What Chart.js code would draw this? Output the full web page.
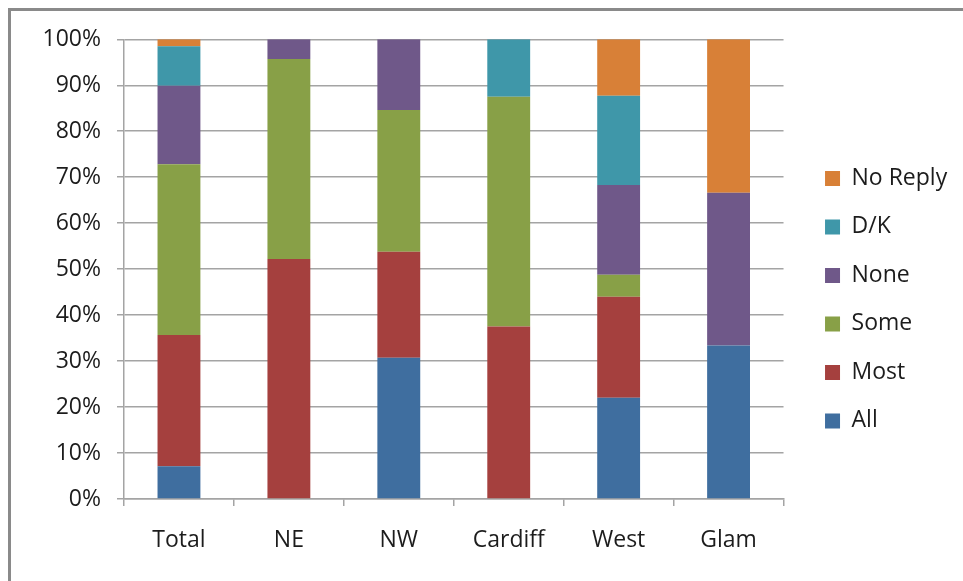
<!DOCTYPE html>
<html>
<head>
<meta charset="utf-8">
<script src="https://cdn.jsdelivr.net/npm/chart.js@4/dist/chart.umd.min.js"></script>
<style>
  html, body { margin: 0; padding: 0; background: #ffffff; overflow: hidden; }
  #frame {
    position: absolute; left: 8px; top: 8px; width: 1000px; height: 620px;
    border-top: 3px solid #8a8a8a; border-left: 3px solid #8a8a8a;
  }
  #wrap { position: absolute; left: 0; top: 0; width: 963px; height: 581px; }
</style>
</head>
<body>
<div id="frame"></div>
<div id="wrap"><canvas id="chart" width="963" height="581"></canvas></div>
<script>
// Share of replies per area (percent of respondents)
const categories = ['Total', 'NE', 'NW', 'Cardiff', 'West', 'Glam'];
const allVals     = [7.1, 0, 30.7, 0, 22.0, 33.4];
const mostVals    = [28.6, 52.2, 23.1, 37.5, 22.0, 0];
const someVals    = [37.1, 43.5, 30.8, 50.0, 4.8, 0];
const noneVals    = [17.1, 4.3, 15.4, 0, 19.5, 33.2];
const dkVals      = [8.6, 0, 0, 12.5, 19.4, 0];
const noReplyVals = [1.5, 0, 0, 0, 12.3, 33.4];
const yTicks = [0, 10, 20, 30, 40, 50, 60, 70, 80, 90, 100];

const FONT = "'Open Sans', Lato, 'Liberation Sans', sans-serif";
const FSIZE = 23;
const TEXT = '#1c1c1c';
const GRID = '#a4a4a4';

// Legend geometry: the legend starts at legendLeft, the plot ends at plotRight
const legendPad = 25.5, legendBox = 15;
const legendLeft = 800;
const plotRight = 784;
const padTop = 39.3, padBottom = 21, plotBottom = 499, plotLeft = 124;

const ds = (label, data, color) => ({
  label, data, backgroundColor: color, borderWidth: 0,
  barPercentage: 0.39, categoryPercentage: 1.0
});

const chart = new Chart(document.getElementById('chart'), {
  type: 'bar',
  data: {
    labels: categories,
    datasets: [
      ds('All', allVals, '#3f6e9f'),
      ds('Most', mostVals, '#a5403e'),
      ds('Some', someVals, '#88a047'),
      ds('None', noneVals, '#6f5889'),
      ds('D/K', dkVals, '#3f97a9'),
      ds('No Reply', noReplyVals, '#d88037')
    ]
  },
  options: {
    responsive: false,
    animation: false,
    events: [],
    layout: { padding: { top: padTop, bottom: padBottom, left: 0, right: 20 } },
    plugins: {
      tooltip: { enabled: false },
      legend: {
        position: 'right',
        reverse: true,
        labels: {
          boxWidth: legendBox, boxHeight: legendBox, padding: legendPad,
          color: TEXT, font: { family: FONT, size: FSIZE }
        }
      }
    },
    scales: {
      x: {
        stacked: true,
        grid: { offset: true, drawOnChartArea: false, drawTicks: true, tickLength: 7, color: GRID, lineWidth: 1.5 },
        border: { display: true, color: GRID, width: 1.5 },
        ticks: { color: TEXT, padding: 21, font: { family: FONT, size: FSIZE } },
        afterFit: s => { s.height = 581 - padBottom - plotBottom; }
      },
      y: {
        stacked: true,
        min: 0, max: 100,
        afterBuildTicks: s => { s.ticks = yTicks.map(v => ({ value: v })); },
        grid: { drawOnChartArea: true, drawTicks: true, tickLength: 7, color: GRID, lineWidth: 1.5 },
        border: { display: true, color: GRID, width: 1.5 },
        ticks: { color: TEXT, padding: 16, font: { family: FONT, size: FSIZE }, callback: v => v + '%' },
        afterFit: s => { s.width = plotLeft; }
      },
      gap: {
        type: 'linear', position: 'right', display: true,
        grid: { display: false }, border: { display: false }, ticks: { display: false },
        afterFit: s => { s.width = legendLeft - plotRight; }
      }
    }
  }
});

// Move the legend so that it starts at legendLeft, whatever its measured width
const shift = chart.legend.left - legendLeft;
if (Math.abs(shift) > 0.25) {
  chart.options.layout.padding.right = 20 + shift;
  chart.update();
}
</script>
</body>
</html>
